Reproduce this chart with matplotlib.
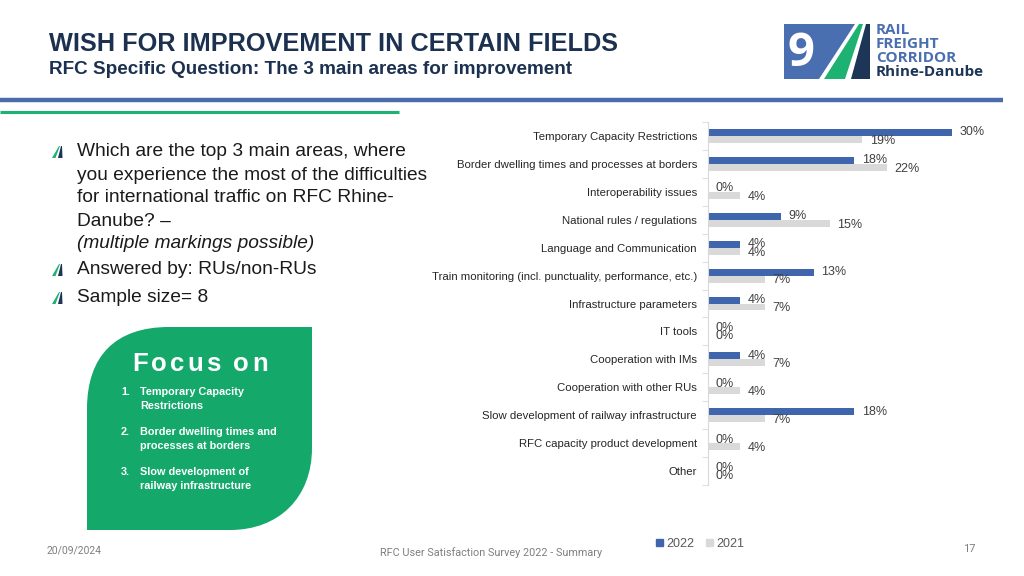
import numpy as np
import matplotlib.pyplot as plt
from matplotlib.patches import Polygon, PathPatch, Patch
from matplotlib.path import Path

plt.rcParams['font.family'] = ['Liberation Sans', 'DejaVu Sans']

# ---- data ----
categories = ['Temporary Capacity Restrictions',
              'Border dwelling times and processes at borders',
              'Interoperability issues',
              'National rules / regulations',
              'Language and Communication',
              'Train monitoring (incl. punctuality, performance, etc.)',
              'Infrastructure parameters',
              'IT tools',
              'Cooperation with IMs',
              'Cooperation with other RUs',
              'Slow development of railway infrastructure',
              'RFC capacity product development',
              'Other']
vals_2022 = [30, 18, 0, 9, 4, 13, 4, 0, 4, 0, 18, 0, 0]
vals_2021 = [19, 22, 4, 15, 4, 7, 7, 0, 7, 4, 7, 4, 0]
series_names = ['2022', '2021']

question_lines = ['Which are the top 3 main areas, where',
                  'you experience the most of the difficulties',
                  'for international traffic on RFC Rhine-',
                  'Danube? \u2013']
focus_items = [('1.', 'Temporary Capacity', 'Restrictions'),
               ('2.', 'Border dwelling times and', 'processes at borders'),
               ('3.', 'Slow development of', 'railway infrastructure')]

blue = '#3f65ad'
grey = '#d9d9d9'
green = '#14a86b'
navy = '#1c3150'

fig = plt.figure(figsize=(10.24, 5.76), dpi=100)

# background layer in pixel coordinates
bg = fig.add_axes([0, 0, 1, 1])
bg.set_xlim(0, 1024)
bg.set_ylim(576, 0)
bg.axis('off')

# header
bg.text(49, 44, 'WISH FOR IMPROVEMENT IN CERTAIN FIELDS',
        fontsize=18.2, fontweight='bold', color=navy, va='center')
bg.text(49, 70, 'RFC Specific Question: The 3 main areas for improvement',
        fontsize=13.6, fontweight='bold', color=navy, va='center')
bg.plot([0, 1003], [99.5, 99.5], color='#4a6cad', lw=3.2, solid_capstyle='butt')
bg.plot([0, 399], [111.5, 111.5], color='#1db272', lw=2.2, solid_capstyle='butt')

# logo
bg.add_patch(Polygon([(784, 24), (855, 24), (819, 79), (784, 79)], color='#4a6fb0', lw=0))
bg.add_patch(Polygon([(824, 79), (845, 79), (863, 24), (859, 24)], color='#1db272', lw=0))
bg.add_patch(Polygon([(851, 79), (870, 79), (870, 24), (866, 24)], color='#1d3557', lw=0))
bg.text(801, 53, '9', color='white', fontsize=34, fontweight='bold', ha='center', va='center',
        family=['Open Sans', 'Liberation Sans'])
logo_font = ['Open Sans', 'Liberation Sans']
for txt, yy, col in [('RAIL', 30, '#4a6fb0'), ('FREIGHT', 44, '#4a6fb0'),
                     ('CORRIDOR', 58, '#4a6fb0'), ('Rhine-Danube', 72, '#1d3557')]:
    bg.text(876, yy, txt, color=col, fontsize=11, fontweight='bold', va='center', family=logo_font)

# bullets + question text
def bullet(x, y):
    bg.add_patch(Polygon([(x, y + 6), (x + 3.5, y + 6), (x + 8, y - 6), (x + 7, y - 6)], color='#1db272', lw=0))
    bg.add_patch(Polygon([(x + 6, y + 6), (x + 10.5, y + 6), (x + 10, y - 6), (x + 9, y - 6)], color='#1d3557', lw=0))

text_col = '#1a1a1a'
fq = 13.8
for i, line in enumerate(question_lines):
    bg.text(77, 152 + 23 * i, line, fontsize=fq, color=text_col, va='center')
bg.text(77, 244, '(multiple markings possible)', fontsize=fq, color=text_col, va='center', style='italic')
bg.text(77, 270, 'Answered by: RUs/non-RUs', fontsize=fq, color=text_col, va='center')
bg.text(77, 298, 'Sample size= 8', fontsize=fq, color=text_col, va='center')
for yy in [152, 270, 298]:
    bullet(52, yy)

# green focus box
x0, x1, y0, y1, R = 87, 312, 327, 530, 82
verts = [(x0, y1), (x0, y0 + R), (x0, y0 + R * 0.35), (x0 + R * 0.35, y0), (x0 + R, y0),
         (x1, y0), (x1, y1 - R), (x1, y1 - R * 0.4), (x1 - R * 0.4, y1), (x1 - R, y1),
         (x0, y1), (x0, y1)]
codes = [Path.MOVETO, Path.LINETO, Path.CURVE4, Path.CURVE4, Path.CURVE4,
         Path.LINETO, Path.LINETO, Path.CURVE4, Path.CURVE4, Path.CURVE4,
         Path.LINETO, Path.CLOSEPOLY]
bg.add_patch(PathPatch(Path(verts, codes), facecolor=green, edgecolor='none'))

# letter-spaced "Focus on"
r = fig.canvas.get_renderer()
word = 'Focus on'
fs = 18.5
widths = []
for ch in word:
    if ch == ' ':
        widths.append(0.278 * fs * 100 / 72)
    else:
        t = bg.text(0, 0, ch, fontsize=fs, fontweight='bold')
        widths.append(t.get_window_extent(r).width)
        t.remove()
gap = 3.0
xx = 200 - (sum(widths) + gap * (len(word) - 1)) / 2
for ch, w in zip(word, widths):
    bg.text(xx, 371, ch, fontsize=fs, fontweight='bold', color='white', va='baseline')
    xx += w + gap

for k, (num, l1, l2) in enumerate(focus_items):
    yy = 392 + 40 * k
    bg.text(121, yy, num, fontsize=7.8, fontweight='bold', color='white', va='center')
    bg.text(140, yy, l1, fontsize=7.8, fontweight='bold', color='white', va='center')
    bg.text(140, yy + 14, l2, fontsize=7.8, fontweight='bold', color='white', va='center')

# footer
foot = ['Roboto', 'Liberation Sans']
bg.text(47, 550, '20/09/2024', fontsize=7.5, color='#7f7f7f', va='center', family=foot)
bg.text(491, 553, 'RFC User Satisfaction Survey 2022 - Summary', fontsize=7.8, color='#7f7f7f',
        va='center', ha='center', family=foot)
bg.text(976, 549, '17', fontsize=8, color='#7f7f7f', va='center', ha='right', family=foot)

# ---- bar chart ----
ax = fig.add_axes([708 / 1024, 1 - 485 / 576, (984 - 708) / 1024, 363 / 576])
y = np.arange(len(categories))
h = 0.25
ax.barh(y - h / 2, vals_2022, height=h, color=blue, label=series_names[0])
ax.barh(y + h / 2, vals_2021, height=h, color=grey, label=series_names[1])
for yi, v in zip(y, vals_2022):
    ax.annotate(f'{v}%', (v, yi - h / 2), xytext=(5.5, 0), textcoords='offset points',
                va='center', fontsize=9, color='#404040')
for yi, v in zip(y, vals_2021):
    ax.annotate(f'{v}%', (v, yi + h / 2), xytext=(5.5, -1), textcoords='offset points',
                va='center', fontsize=9, color='#404040')

ax.set_xlim(0, 34)
ax.set_ylim(len(categories) - 0.5, -0.5)
ax.set_yticks(y)
ax.set_yticklabels(categories, fontsize=8.2, color='#262626')
ax.set_yticks(np.arange(-0.5, len(categories), 1), minor=True)
ax.tick_params(axis='y', which='major', length=0, pad=8)
ax.tick_params(axis='y', which='minor', length=4, color='#d9d9d9')
ax.xaxis.set_visible(False)
for s in ['top', 'right', 'bottom']:
    ax.spines[s].set_visible(False)
ax.spines['left'].set_color('#d9d9d9')
ax.patch.set_alpha(0)

handles = [Patch(color=blue), Patch(color=grey)]
fig.legend(handles, series_names, loc='center', bbox_to_anchor=(700 / 1024, 1 - 544 / 576),
           ncol=2, frameon=False, fontsize=9, handlelength=0.55, handleheight=0.55,
           handletextpad=0.3, columnspacing=0.9, labelcolor='#595959')

plt.savefig('out.png', dpi=100)
